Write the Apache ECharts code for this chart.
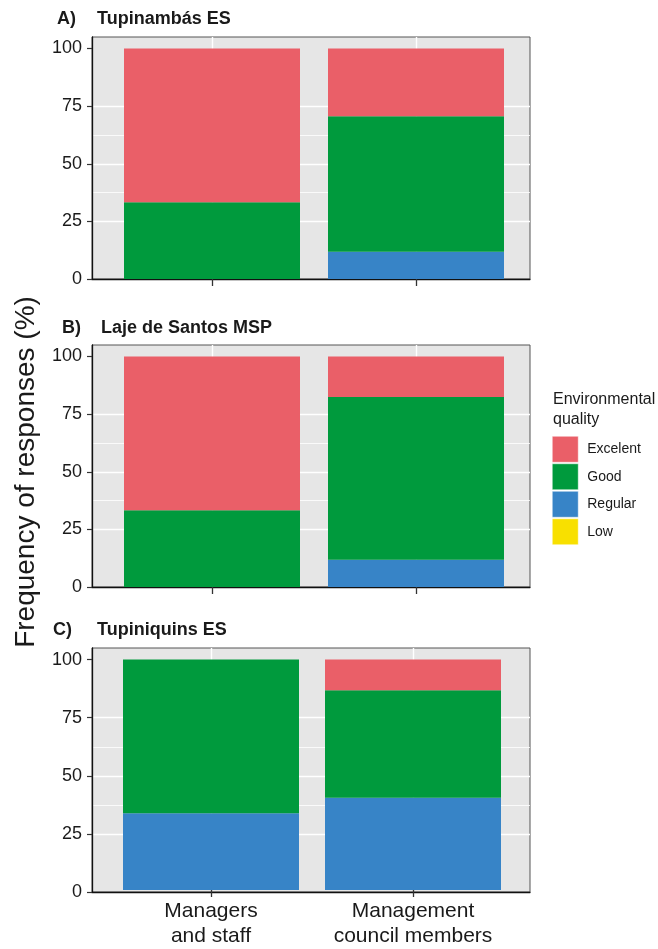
<!DOCTYPE html>
<html>
<head>
<meta charset="utf-8">
<script src="https://cdn.jsdelivr.net/npm/echarts@6/dist/echarts.min.js"></script>
<style>
html, body { margin: 0; padding: 0; background: #fff; }
#chart { width: 658px; height: 949px; }
</style>
</head>
<body>
<div id="chart"></div>
<script>
// data (% of responses)
const categories = ['Managers\nand staff', 'Management\ncouncil members'];
const panelLetters = ['A)', 'B)', 'C)'];
const panelNames = ['Tupinambás ES', 'Laje de Santos MSP', 'Tupiniquins ES'];
const qualityLevels = ['Excelent', 'Good', 'Regular', 'Low'];
const excelent = [[66.7, 29.4], [66.7, 17.6], [0, 13.3]];
const good = [[33.3, 58.8], [33.3, 70.6], [66.7, 46.7]];
const regular = [[0, 11.8], [0, 11.8], [33.3, 40.0]];
const low = [[0, 0], [0, 0], [0, 0]];
const yTicks = [0, 25, 50, 75, 100];
const yMinorTicks = [12.5, 37.5, 62.5, 87.5];

const colors = { Excelent: '#ea5f68', Good: '#009a3d', Regular: '#3784c7', Low: '#f8e000' };
const font = '"Liberation Sans", Arial, sans-serif';
const textColor = '#1a1a1a';

// panel layout
const panelTop = [37, 345, 648];
const panelHeight = [242, 242, 244];
const barLeft = [212, 212, 211];
const barSpan = [204, 204, 202];
const titleY = [19, 328, 630];
const letterX = [57, 62, 53];
const nameX = [97, 101, 97];

let grids = [], xAxes = [], yAxes = [], series = [], graphics = [];

for (let p = 0; p < 3; p++) {
    // grey panel
    grids.push({
        left: 92, width: 438, top: panelTop[p], height: panelHeight[p],
        show: true, backgroundColor: '#e6e6e6', borderColor: '#555', borderWidth: 1
    });
    // bars sit on a narrower grid so the category centres match
    grids.push({
        left: barLeft[p], width: barSpan[p], top: panelTop[p], height: panelHeight[p]
    });

    xAxes.push({
        gridIndex: 2 * p, type: 'value', min: 0, max: 1, position: 'bottom',
        axisLine: { show: true, lineStyle: { color: '#111', width: 1.3 } },
        axisTick: { show: false }, axisLabel: { show: false }, splitLine: { show: false }
    });
    xAxes.push({
        gridIndex: 2 * p + 1, type: 'category', data: categories, boundaryGap: false,
        axisLine: { show: false },
        axisTick: { show: true, length: 7, lineStyle: { color: '#333', width: 1.3 } },
        splitLine: { show: true, lineStyle: { color: '#fff', width: 1.4 } },
        axisLabel: {
            show: p === 2, interval: 0, margin: 9,
            fontSize: 21, lineHeight: 25, color: textColor, fontFamily: font
        }
    });

    // major y axis with labels
    yAxes.push({
        gridIndex: 2 * p, type: 'value', min: 0, max: 105, interval: 25, position: 'left',
        axisLine: { show: true, lineStyle: { color: '#111', width: 1.3 } },
        axisTick: { show: true, length: 5, customValues: yTicks, lineStyle: { color: '#333', width: 1.2 } },
        axisLabel: {
            customValues: yTicks, margin: 10,
            fontSize: 18, color: textColor, fontFamily: font,
            formatter: v => (v > 100 ? '' : v)
        },
        splitLine: { show: true, showMinLine: false, showMaxLine: false, lineStyle: { color: '#fff', width: 1.4 } }
    });
    // minor grid lines
    yAxes.push({
        gridIndex: 2 * p, type: 'value', min: 0, max: 105, interval: 12.5, position: 'left',
        axisLine: { show: false },
        axisTick: { show: false, customValues: yMinorTicks },
        axisLabel: { show: false },
        splitLine: { show: true, showMinLine: false, showMaxLine: false, lineStyle: { color: '#fff', width: 0.8 } }
    });
    // hidden y axis for the bars
    yAxes.push({ gridIndex: 2 * p + 1, type: 'value', min: 0, max: 105, show: false });

    // stacked from the bottom: Low, Regular, Good, Excelent
    const values = { Low: low[p], Regular: regular[p], Good: good[p], Excelent: excelent[p] };
    ['Low', 'Regular', 'Good', 'Excelent'].forEach(name => {
        series.push({
            name: name, type: 'bar', stack: 'panel' + p,
            xAxisIndex: 2 * p + 1, yAxisIndex: 3 * p + 2,
            barWidth: 176, clip: false,
            itemStyle: { color: colors[name] },
            data: values[name]
        });
    });

    graphics.push({
        type: 'text', x: letterX[p], y: titleY[p],
        style: { text: panelLetters[p], fontSize: 18, fontWeight: 'bold', fontFamily: font, fill: textColor, verticalAlign: 'middle' }
    });
    graphics.push({
        type: 'text', x: nameX[p], y: titleY[p],
        style: { text: panelNames[p], fontSize: 18, fontWeight: 'bold', fontFamily: font, fill: textColor, verticalAlign: 'middle' }
    });
}

// y axis title
graphics.push({
    type: 'text', x: 26, y: 472, rotation: Math.PI / 2,
    style: { text: 'Frequency of responses (%)', fontSize: 28, fontFamily: font, fill: textColor, align: 'center', verticalAlign: 'middle' }
});
// legend title
graphics.push({
    type: 'text', x: 553, y: 390,
    style: { text: 'Environmental\nquality', fontSize: 16, lineHeight: 20, fontFamily: font, fill: textColor, verticalAlign: 'top' }
});

let myChart = echarts.init(document.getElementById('chart'), null, { renderer: 'canvas' });
myChart.setOption({
    animation: false,
    textStyle: { fontFamily: font },
    grid: grids,
    xAxis: xAxes,
    yAxis: yAxes,
    legend: {
        data: qualityLevels,
        orient: 'vertical', left: 552, top: 436,
        itemWidth: 26, itemHeight: 26, itemGap: 1, padding: 0,
        icon: 'rect',
        itemStyle: { borderColor: '#fff', borderWidth: 0.5 },
        textStyle: { fontSize: 14, color: textColor, fontFamily: font, padding: [0, 0, 0, 4] }
    },
    graphic: graphics,
    series: series
});
</script>
</body>
</html>
